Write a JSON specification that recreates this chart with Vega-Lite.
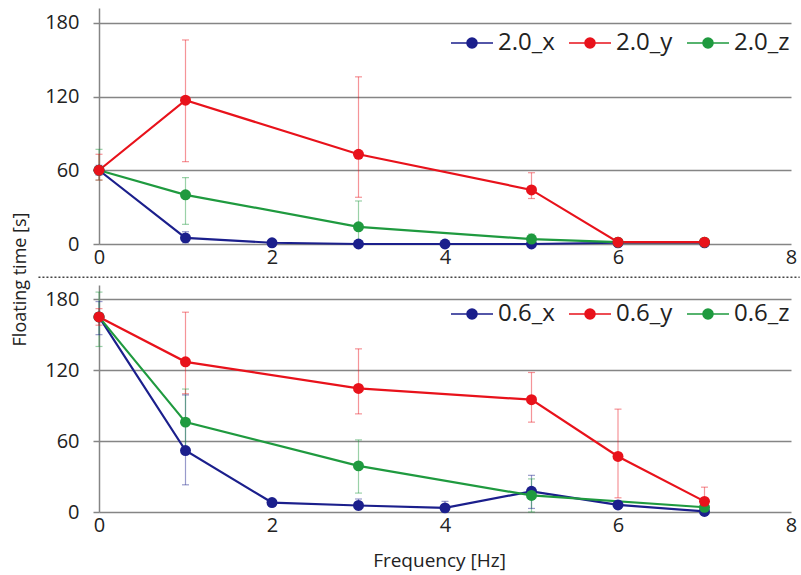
{
  "$schema": "https://vega.github.io/schema/vega-lite/v6.json",
  "padding": {"left": 10, "top": 8, "right": 0, "bottom": 2},
  "background": "white",
  "config": {
    "font": "Open Sans",
    "view": {"stroke": null},
    "axis": {"labelColor": "#222", "titleColor": "#222", "titleFontWeight": "normal", "labelFont": "Open Sans", "titleFont": "Open Sans", "labelFontSize": 20},
    "axisX": {"grid": false, "domain": false, "ticks": false, "labelFontSize": 20, "labelPadding": 3, "labelFlush": false, "titleFontSize": 19, "titlePadding": 16, "format": "d"},
    "axisY": {"grid": true, "gridColor": "#858585", "gridWidth": 1.5, "domain": true, "domainColor": "#858585", "domainWidth": 1.5, "ticks": true, "tickSize": 6, "tickColor": "#858585", "tickWidth": 1.5, "labelFontSize": 20, "labelPadding": 14, "titleFontSize": 18, "format": "d"},
    "legend": {"labelFontSize": 24, "labelColor": "#222", "labelFont": "Open Sans"}
  },
  "datasets": {
    "sep": [{"f": -0.7, "f2": 8.1, "v": -27}],
    "top": [
      {"s": "2.0_x", "f": 0, "v": 60, "lo": 56, "hi": 64},
      {"s": "2.0_x", "f": 1, "v": 5, "lo": 1, "hi": 10},
      {"s": "2.0_x", "f": 2, "v": 1, "lo": 0, "hi": 2},
      {"s": "2.0_x", "f": 3, "v": 0, "lo": 0, "hi": 1},
      {"s": "2.0_x", "f": 4, "v": 0, "lo": 0, "hi": 1},
      {"s": "2.0_x", "f": 5, "v": 0, "lo": 0, "hi": 2},
      {"s": "2.0_x", "f": 6, "v": 1, "lo": 0, "hi": 2},
      {"s": "2.0_x", "f": 7, "v": 1, "lo": 0, "hi": 2},
      {"s": "2.0_z", "f": 0, "v": 60, "lo": 52, "hi": 77},
      {"s": "2.0_z", "f": 1, "v": 40, "lo": 16, "hi": 54},
      {"s": "2.0_z", "f": 3, "v": 14, "lo": 0, "hi": 35},
      {"s": "2.0_z", "f": 5, "v": 4, "lo": 1, "hi": 8},
      {"s": "2.0_z", "f": 6, "v": 1.5, "lo": 0, "hi": 3},
      {"s": "2.0_z", "f": 7, "v": 1.5, "lo": 0, "hi": 3},
      {"s": "2.0_y", "f": 0, "v": 60, "lo": 52, "hi": 73},
      {"s": "2.0_y", "f": 1, "v": 117, "lo": 67, "hi": 166},
      {"s": "2.0_y", "f": 3, "v": 73, "lo": 38, "hi": 136},
      {"s": "2.0_y", "f": 5, "v": 44, "lo": 37, "hi": 58},
      {"s": "2.0_y", "f": 6, "v": 1.5, "lo": 0, "hi": 3},
      {"s": "2.0_y", "f": 7, "v": 1.5, "lo": 0, "hi": 3}
    ],
    "bottom": [
      {"s": "0.6_x", "f": 0, "v": 165, "lo": 150, "hi": 178},
      {"s": "0.6_x", "f": 1, "v": 52, "lo": 23, "hi": 99},
      {"s": "0.6_x", "f": 2, "v": 8, "lo": 6, "hi": 10},
      {"s": "0.6_x", "f": 3, "v": 5.5, "lo": 2, "hi": 11},
      {"s": "0.6_x", "f": 4, "v": 3.5, "lo": 0, "hi": 9},
      {"s": "0.6_x", "f": 5, "v": 17.5, "lo": 3, "hi": 31},
      {"s": "0.6_x", "f": 6, "v": 6, "lo": 3, "hi": 9},
      {"s": "0.6_x", "f": 7, "v": 0.5, "lo": 0, "hi": 2},
      {"s": "0.6_z", "f": 0, "v": 165, "lo": 140, "hi": 186},
      {"s": "0.6_z", "f": 1, "v": 76, "lo": 52, "hi": 104},
      {"s": "0.6_z", "f": 3, "v": 39, "lo": 16, "hi": 61},
      {"s": "0.6_z", "f": 5, "v": 14, "lo": 0, "hi": 28},
      {"s": "0.6_z", "f": 7, "v": 4, "lo": 1, "hi": 7},
      {"s": "0.6_y", "f": 0, "v": 165, "lo": 158, "hi": 172},
      {"s": "0.6_y", "f": 1, "v": 127, "lo": 100, "hi": 169},
      {"s": "0.6_y", "f": 3, "v": 104.5, "lo": 83, "hi": 138},
      {"s": "0.6_y", "f": 5, "v": 95, "lo": 76, "hi": 118},
      {"s": "0.6_y", "f": 6, "v": 47, "lo": 12, "hi": 87},
      {"s": "0.6_y", "f": 7, "v": 9, "lo": 0, "hi": 21}
    ]
  },
  "resolve": {"scale": {"color": "independent"}},
  "bounds": "flush",
  "spacing": 41,
  "vconcat": [
    {
      "width": 692,
      "height": 236,
      "encoding": {
        "x": {"type": "quantitative", "title": null, "scale": {"domain": [0, 8], "nice": false, "zero": false}, "axis": {"values": [0, 2, 4, 6, 8]}},
        "y": {"type": "quantitative", "title": null, "scale": {"domain": [0, 192], "nice": false}, "axis": {"values": [0, 60, 120, 180]}}
      },
      "layer": [
        {
          "data": {"name": "sep"},
          "mark": {"type": "rule", "strokeDash": [2, 2], "color": "#444", "strokeWidth": 1.5, "clip": false},
          "encoding": {
            "x": {"field": "f"},
            "x2": {"field": "f2"},
            "y": {"field": "v"}
          }
        },
        {
          "data": {"name": "top"},
          "mark": {"type": "rule", "opacity": 0.45, "strokeWidth": 1.2},
          "encoding": {
            "x": {"field": "f"},
            "y": {"field": "lo"},
            "y2": {"field": "hi"},
            "color": {"field": "s", "type": "nominal"}
          }
        },
        {
          "data": {"name": "top"},
          "mark": {"type": "tick", "orient": "horizontal", "size": 7, "thickness": 1.2, "opacity": 0.45},
          "encoding": {
            "x": {"field": "f"},
            "y": {"field": "lo"},
            "color": {"field": "s", "type": "nominal"}
          }
        },
        {
          "data": {"name": "top"},
          "mark": {"type": "tick", "orient": "horizontal", "size": 7, "thickness": 1.2, "opacity": 0.45},
          "encoding": {
            "x": {"field": "f"},
            "y": {"field": "hi"},
            "color": {"field": "s", "type": "nominal"}
          }
        },
        {
          "data": {"name": "top"},
          "mark": {"type": "line", "strokeWidth": 2.2},
          "encoding": {
            "x": {"field": "f"},
            "y": {"field": "v"},
            "color": {
              "field": "s", "type": "nominal",
              "scale": {"domain": ["2.0_x", "2.0_y", "2.0_z"], "range": ["#1b1f8c", "#e8121b", "#1f9a3f"]},
              "legend": {
                "orient": "none", "legendX": 351, "legendY": 13, "direction": "horizontal", "title": null,
                "symbolType": "M-1,0L1,0M-0.24,0A0.24,0.24,0,1,1,0.24,0A0.24,0.24,0,1,1,-0.24,0Z",
                "symbolSize": 1764, "symbolStrokeWidth": 1.5, "labelFontSize": 24, "labelOffset": 4, "columnPadding": 11,
                "encode": {"symbols": {"update": {
                  "fill": {"signal": "test(/_x$/, datum.value) ? '#1b1f8c' : test(/_y$/, datum.value) ? '#e8121b' : '#1f9a3f'"},
                  "stroke": {"signal": "test(/_x$/, datum.value) ? '#1b1f8c' : test(/_y$/, datum.value) ? '#e8121b' : '#1f9a3f'"},
                  "opacity": {"value": 1}
                }}}
              }
            }
          }
        },
        {
          "data": {"name": "top"},
          "mark": {"type": "circle", "size": 120, "opacity": 1},
          "encoding": {
            "x": {"field": "f"},
            "y": {"field": "v"},
            "color": {"field": "s", "type": "nominal"}
          }
        }
      ]
    },
    {
      "width": 692,
      "height": 227,
      "data": {"name": "bottom"},
      "encoding": {
        "x": {"field": "f", "type": "quantitative", "title": "Frequency [Hz]", "scale": {"domain": [0, 8], "nice": false, "zero": false}, "axis": {"values": [0, 2, 4, 6, 8], "titleX": 340}},
        "y": {"type": "quantitative", "title": "Floating time [s]", "scale": {"domain": [0, 192], "nice": false}, "axis": {"values": [0, 60, 120, 180], "titleX": -70, "titleY": -6, "titleBaseline": "bottom", "titleAlign": "center", "titleAngle": 270}}
      },
      "layer": [
        {
          "mark": {"type": "rule", "opacity": 0.45, "strokeWidth": 1.2},
          "encoding": {
            "y": {"field": "lo"},
            "y2": {"field": "hi"},
            "color": {"field": "s", "type": "nominal"}
          }
        },
        {
          "mark": {"type": "tick", "orient": "horizontal", "size": 7, "thickness": 1.2, "opacity": 0.45},
          "encoding": {
            "y": {"field": "lo"},
            "color": {"field": "s", "type": "nominal"}
          }
        },
        {
          "mark": {"type": "tick", "orient": "horizontal", "size": 7, "thickness": 1.2, "opacity": 0.45},
          "encoding": {
            "y": {"field": "hi"},
            "color": {"field": "s", "type": "nominal"}
          }
        },
        {
          "mark": {"type": "line", "strokeWidth": 2.2},
          "encoding": {
            "y": {"field": "v"},
            "color": {
              "field": "s", "type": "nominal",
              "scale": {"domain": ["0.6_x", "0.6_y", "0.6_z"], "range": ["#1b1f8c", "#e8121b", "#1f9a3f"]},
              "legend": {
                "orient": "none", "legendX": 351, "legendY": 7, "direction": "horizontal", "title": null,
                "symbolType": "M-1,0L1,0M-0.24,0A0.24,0.24,0,1,1,0.24,0A0.24,0.24,0,1,1,-0.24,0Z",
                "symbolSize": 1764, "symbolStrokeWidth": 1.5, "labelFontSize": 24, "labelOffset": 4, "columnPadding": 11,
                "encode": {"symbols": {"update": {
                  "fill": {"signal": "test(/_x$/, datum.value) ? '#1b1f8c' : test(/_y$/, datum.value) ? '#e8121b' : '#1f9a3f'"},
                  "stroke": {"signal": "test(/_x$/, datum.value) ? '#1b1f8c' : test(/_y$/, datum.value) ? '#e8121b' : '#1f9a3f'"},
                  "opacity": {"value": 1}
                }}}
              }
            }
          }
        },
        {
          "mark": {"type": "circle", "size": 120, "opacity": 1},
          "encoding": {
            "y": {"field": "v"},
            "color": {"field": "s", "type": "nominal"}
          }
        }
      ]
    }
  ]
}
